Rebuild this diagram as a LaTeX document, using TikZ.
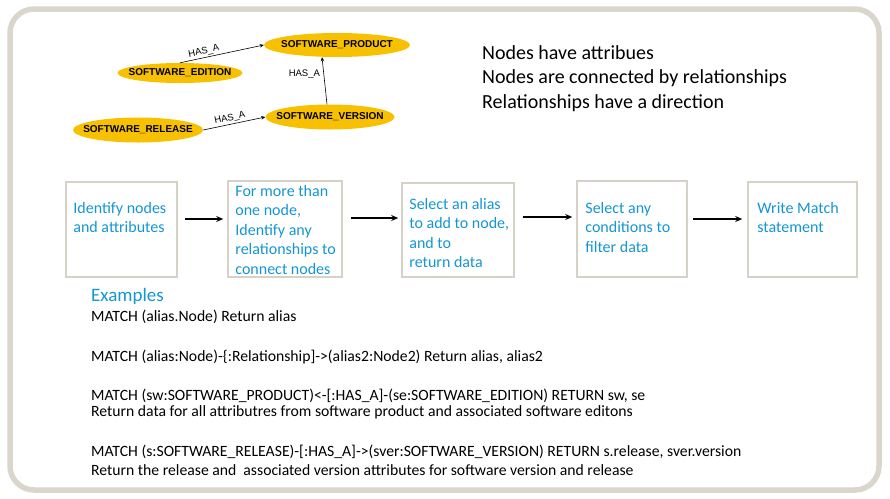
\documentclass[tikz,border=0pt]{standalone}
\usepackage{fontspec}
\setmainfont{Carlito}
\newfontfamily\graphfont{Liberation Sans}
\usetikzlibrary{arrows.meta,shapes.geometric,positioning,calc}
\definecolor{frameGray}{RGB}{218,214,204}
\definecolor{boxGray}{RGB}{214,210,200}
\definecolor{nodeGold}{RGB}{247,192,0}
\definecolor{stepBlue}{RGB}{20,150,210}
\newcommand{\enttext}[1]{\makebox[0pt]{#1}}

\begin{document}
\begin{tikzpicture}[x=1pt, y=-1pt,
    ent/.style={ellipse, fill=nodeGold, inner sep=0pt, font=\graphfont\bfseries\fontsize{10}{11}\selectfont},
    rel/.style={-{Stealth[length=4pt,width=3.5pt]}, line width=0.6pt},
    rlbl/.style={font=\graphfont\fontsize{9.5}{11}\selectfont, inner sep=1.5pt},
    stepbox/.style={draw=boxGray, line width=1.6pt},
    steptxt/.style={align=left, text=stepBlue, font=\fontsize{16}{19.5}\selectfont, inner sep=0pt},
    arr/.style={-{Stealth[length=7pt,width=6pt]}, line width=1.6pt},
    code/.style={anchor=west, inner sep=0pt, font=\fontsize{15.7}{17}\selectfont}
]
\useasboundingbox (0,0) rectangle (890,498);
\draw[frameGray, line width=5.5pt, rounded corners=24pt] (10,9) rectangle (879,490);

% graph of the model
\node[ent, minimum width=146pt, minimum height=24pt] (pr) at (337,45) {\enttext{SOFTWARE\_PRODUCT}};
\node[ent, minimum width=125pt, minimum height=20pt] (ed) at (180,73) {\enttext{SOFTWARE\_EDITION}};
\node[ent, minimum width=129pt, minimum height=25pt] (ve) at (330,117) {\enttext{SOFTWARE\_VERSION}};
\node[ent, minimum width=130pt, minimum height=25pt] (re) at (138,130) {\enttext{SOFTWARE\_RELEASE}};

\draw[rel] (ed.north) -- node[rlbl, above, sloped, pos=0.3] {HAS\_A} (pr.west);
\draw[rel] (re.east) -- node[rlbl, above, sloped, pos=0.45] {HAS\_A} (ve.west);
\draw[rel] ([xshift=-3pt]ve.north) -- node[rlbl, left, pos=0.65, xshift=-2pt] {HAS\_A} ([xshift=-15pt]pr.south);

\node[anchor=north west, align=left, inner sep=0pt, font=\fontsize{20}{24.5}\selectfont] (facts) at (482,45)
    {Nodes have attribues\\Nodes are connected by relationships\\Relationships have a direction};

% steps
\node[stepbox, minimum width=111pt, minimum height=95pt] (b1) at (121.5,229.5) {};
\node[stepbox, minimum width=114pt, minimum height=96pt] (b2) at (285,229) {};
\node[stepbox, minimum width=112pt, minimum height=94pt] (b3) at (458,230) {};
\node[stepbox, minimum width=110pt, minimum height=96pt] (b4) at (632,229) {};
\node[stepbox, minimum width=109pt, minimum height=95pt] (b5) at (802.5,229.5) {};

\node[steptxt, below right=20.5pt and 8pt of b1.north west] (t1) {Identify nodes\\and attributes};
\node[steptxt, below right=4.5pt and 8pt of b2.north west] (t2) {For more than\\one node,\\Identify any\\relationships to\\connect nodes};
\node[steptxt, below right=15.5pt and 8pt of b3.north west] (t3) {Select an alias\\to add to node,\\and to\\return data};
\node[steptxt, below right=21.5pt and 9pt of b4.north west] (t4) {Select any\\conditions to\\filter data};
\node[steptxt, below right=20.5pt and 10pt of b5.north west] (t5) {Write Match\\statement};

\draw[arr] ($(b1.east |- 0,219)+(7,0)$) -- ($(b2.west |- 0,219)+(-4,0)$);
\draw[arr, line width=1.2pt] ($(b2.east |- 0,218)+(8,0)$) -- ($(b3.west |- 0,218)+(-3,0)$);
\draw[arr] ($(b3.east |- 0,217)+(8,0)$) -- ($(b4.west |- 0,217)+(-4,0)$);
\draw[arr] ($(b4.east |- 0,219)+(5,0)$) -- ($(b5.west |- 0,219)+(-5,0)$);

% examples
\node[anchor=west, inner sep=0pt, text=stepBlue, font=\fontsize{19}{20}\selectfont] (ex) at (91,296) {Examples};
\node[code] (c1) at (91,317) {MATCH (alias.Node) Return alias};
\node[code] (c2) at (91,357) {MATCH (alias:Node)-\{:Relationship]->(alias2:Node2) Return alias, alias2};
\node[code] (c3) at (91,396) {MATCH (sw:SOFTWARE\_PRODUCT)<-[:HAS\_A]-(se:SOFTWARE\_EDITION) RETURN sw, se};
\node[code] (c4) at (91,412) {Return data for all attributres from software product and associated software editons};
\node[code] (c5) at (91,452) {MATCH (s:SOFTWARE\_RELEASE)-[:HAS\_A]->(sver:SOFTWARE\_VERSION) RETURN s.release, sver.version};
\node[code] (c6) at (91,470) {Return the release and\ \ associated version attributes for software version and release};
\end{tikzpicture}
\end{document}
